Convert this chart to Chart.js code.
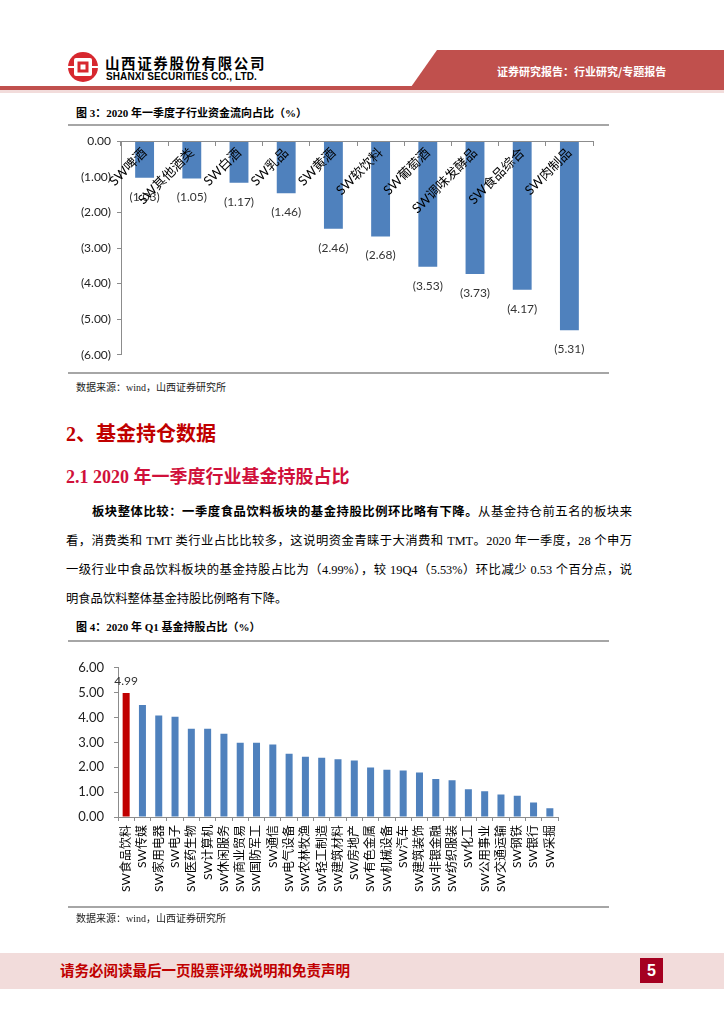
<!DOCTYPE html>
<html>
<head>
<meta charset="utf-8">
<script src="https://cdn.jsdelivr.net/npm/chart.js@4/dist/chart.umd.min.js"></script>
<style>
  html, body { margin: 0; padding: 0; background: #fff; }
  #page { position: relative; width: 724px; height: 1024px; overflow: hidden; background: #fff;
          font-family: "Liberation Serif", "Noto Sans CJK SC", serif; color: #000; }
  .abs { position: absolute; white-space: nowrap; }
  .cap { font-size: 11px; font-weight: bold; left: 76px; }
  .src { font-size: 10px; left: 76px; color: #222; }
  .rule { position: absolute; left: 68px; width: 541px; height: 2px; background: #A6A6A6; }
  .para { position: absolute; left: 66px; width: 566px; font-size: 12.3px; line-height: 16px;
          text-align: justify; text-align-last: justify; white-space: normal; }
</style>
</head>
<body>
<div id="page">
  <!-- header -->
  <svg class="abs" style="left:0;top:0" width="724" height="96">
    <polygon points="437,50 724,50 724,87 411,87" fill="#C0504D"/>
    <rect x="0" y="86" width="724" height="4" fill="#C0504D"/>
    <rect x="0" y="90" width="724" height="3" fill="#F2DCDB"/>
    <circle cx="83" cy="67" r="15" fill="#D7282F"/>
    <rect x="74" y="58" width="18" height="18" rx="2" fill="#fff"/>
    <rect x="77.5" y="61.5" width="11" height="11" fill="#D7282F"/>
    <rect x="80.5" y="64.5" width="5" height="5" fill="#fff"/>
    <rect x="68" y="66" width="6" height="2" fill="#fff"/>
    <rect x="92" y="66" width="6" height="2" fill="#fff"/>
  </svg>
  <div class="abs" style="left:105px;top:54px;font-size:14.5px;font-weight:bold;letter-spacing:1.6px;font-family:'Noto Sans CJK SC',sans-serif;line-height:18px;">山西证券股份有限公司</div>
  <div class="abs" style="left:106px;top:71px;font-size:10px;font-weight:bold;font-family:'Liberation Sans',sans-serif;line-height:12px;letter-spacing:0.1px;">SHANXI SECURITIES CO., LTD.</div>
  <div class="abs" style="left:497px;top:64px;font-size:11px;font-weight:bold;color:#fff;font-family:'Noto Sans CJK SC',sans-serif;line-height:15px;">证券研究报告：行业研究/专题报告</div>

  <!-- figure 3 -->
  <div class="abs cap" style="top:105px;line-height:16px;">图 3：2020 年一季度子行业资金流向占比（%）</div>
  <div class="rule" style="top:124px;"></div>
  <div class="abs" style="left:60px;top:128px;width:560px;height:240px;"><canvas id="c1"></canvas></div>
  <div class="rule" style="top:372px;"></div>
  <div class="abs src" style="top:381px;line-height:14px;">数据来源：wind，山西证券研究所</div>

  <!-- headings -->
  <div class="abs" style="left:66px;top:422px;font-size:20px;font-weight:bold;color:#C00000;line-height:24px;">2、基金持仓数据</div>
  <div class="abs" style="left:66px;top:466px;font-size:18px;font-weight:bold;color:#D0103A;line-height:22px;">2.1 2020 年一季度行业基金持股占比</div>

  <div class="para" style="top:504px;left:92px;width:540px;"><b>板块整体比较：一季度食品饮料板块的基金持股比例环比略有下降。</b>从基金持仓前五名的板块来</div>
  <div class="para" style="top:533px;">看，消费类和 TMT 类行业占比比较多，这说明资金青睐于大消费和 TMT。2020 年一季度，28 个申万</div>
  <div class="para" style="top:562px;">一级行业中食品饮料板块的基金持股占比为（4.99%），较 19Q4（5.53%）环比减少 0.53 个百分点，说</div>
  <div class="para" style="top:591px;text-align:left;text-align-last:left;">明食品饮料整体基金持股比例略有下降。</div>

  <!-- figure 4 -->
  <div class="abs cap" style="top:619px;line-height:16px;">图 4：2020 年 Q1 基金持股占比（%）</div>
  <div class="rule" style="top:640px;"></div>
  <div class="abs" style="left:60px;top:650px;width:520px;height:262px;"><canvas id="c2"></canvas></div>
  <div class="rule" style="top:906px;"></div>
  <div class="abs src" style="top:912px;line-height:14px;">数据来源：wind，山西证券研究所</div>

  <!-- footer -->
  <div class="abs" style="left:0;top:953px;width:724px;height:36px;background:#F2DCDB;"></div>
  <div class="abs" style="left:60px;top:961px;font-size:14.5px;font-weight:bold;color:#C00000;font-family:'Noto Sans CJK SC',sans-serif;line-height:18px;">请务必阅读最后一页股票评级说明和免责声明</div>
  <div class="abs" style="left:640px;top:958px;width:23px;height:25px;background:#A50021;color:#fff;font-weight:bold;font-size:16px;line-height:25px;text-align:center;font-family:'Liberation Sans',sans-serif;">5</div>
</div>

<script>
// ---------- data ----------
const flowCategories = ['SW啤酒','SW其他酒类','SW白酒','SW乳品','SW黄酒','SW软饮料','SW葡萄酒','SW调味发酵品','SW食品综合','SW肉制品'];
const flowValues = [-1.03,-1.05,-1.17,-1.46,-2.46,-2.68,-3.53,-3.73,-4.17,-5.31];
const flowTicks = [0,-1,-2,-3,-4,-5,-6];

const fundCategories = ['SW食品饮料','SW传媒','SW家用电器','SW电子','SW医药生物','SW计算机','SW休闲服务','SW商业贸易','SW国防军工','SW通信','SW电气设备','SW农林牧渔','SW轻工制造','SW建筑材料','SW房地产','SW有色金属','SW机械设备','SW汽车','SW建筑装饰','SW非银金融','SW纺织服装','SW化工','SW公用事业','SW交通运输','SW钢铁','SW银行','SW采掘'];
const fundValues = [4.99,4.50,4.08,4.03,3.55,3.55,3.35,2.99,2.99,2.92,2.54,2.42,2.38,2.32,2.27,1.99,1.90,1.87,1.79,1.53,1.48,1.12,1.04,0.90,0.85,0.58,0.35];
const fundTicks = [0,1,2,3,4,5,6];
const fundLabeled = [0];

// ---------- helpers ----------
const BLUE = '#4F81BD', RED = '#C00000', AXIS = '#8C8C8C';
const sansFont = "Lato, 'Noto Sans CJK SC', sans-serif";

const barLabels = {
  id: 'barLabels',
  afterDatasetsDraw(chart, args, opts) {
    const ctx = chart.ctx;
    const meta = chart.getDatasetMeta(0);
    const data = chart.data.datasets[0].data;
    ctx.save();
    ctx.font = opts.font;
    ctx.fillStyle = opts.color;
    ctx.textAlign = 'center';
    ctx.textBaseline = 'middle';
    meta.data.forEach((bar, i) => {
      if (opts.only && opts.only.indexOf(i) < 0) return;
      const v = data[i];
      const txt = opts.format(v);
      const y = v < 0 ? bar.y + opts.offset : bar.y - opts.offset;
      ctx.fillText(txt, bar.x, y);
    });
    ctx.restore();
  }
};

// ---------- chart 1 ----------
new Chart(document.getElementById('c1'), {
  type: 'bar',
  data: {
    labels: flowCategories,
    datasets: [{ data: flowValues, backgroundColor: BLUE, borderWidth: 0,
                 barPercentage: 0.4, categoryPercentage: 1.0 }]
  },
  options: {
    responsive: true, maintainAspectRatio: false, animation: false,
    devicePixelRatio: 1,
    layout: { padding: { top: 13, right: 27, bottom: 10, left: 0 } },
    plugins: {
      legend: { display: false }, tooltip: { enabled: false },
      barLabels: { font: "12px " + sansFont, color: '#333', offset: 19,
                   format: v => '(' + Math.abs(v).toFixed(2) + ')' }
    },
    scales: {
      x: {
        position: { y: 0 },
        grid: { drawOnChartArea: false, drawTicks: true, tickLength: 4, color: AXIS, offset: true, z: 1 },
        border: { color: AXIS, width: 1, z: 1 },
        ticks: { z: 1, autoSkip: false, minRotation: 45, maxRotation: 45, padding: 0,
                 color: '#000', font: { family: sansFont, size: 13 } }
      },
      y: {
        min: -6, max: 0,
        afterBuildTicks: s => { s.ticks = flowTicks.map(v => ({ value: v })); },
        afterFit: s => { s.width = 61; },
        grid: { drawOnChartArea: false, drawTicks: true, tickLength: 4, color: AXIS },
        border: { color: AXIS, width: 1 },
        ticks: { padding: 6, color: '#222', font: { family: sansFont, size: 12 },
                 callback: v => v === 0 ? '0.00' : '(' + Math.abs(v).toFixed(2) + ')' }
      }
    }
  },
  plugins: [barLabels]
});

// ---------- chart 2 ----------
new Chart(document.getElementById('c2'), {
  type: 'bar',
  data: {
    labels: fundCategories,
    datasets: [{ data: fundValues,
                 backgroundColor: fundValues.map((v, i) => i === 0 ? RED : BLUE),
                 borderWidth: 0, barPercentage: 0.43, categoryPercentage: 1.0 }]
  },
  options: {
    responsive: true, maintainAspectRatio: false, animation: false,
    devicePixelRatio: 1,
    layout: { padding: { top: 12, right: 22, bottom: 0, left: 0 } },
    plugins: {
      legend: { display: false }, tooltip: { enabled: false },
      barLabels: { font: "12px " + sansFont, color: '#333', offset: 12, only: fundLabeled,
                   format: v => v.toFixed(2) }
    },
    scales: {
      x: {
        grid: { drawOnChartArea: false, drawTicks: true, tickLength: 4, color: AXIS, offset: true },
        border: { color: AXIS, width: 1 },
        afterFit: s => { s.height = 95; },
        ticks: { autoSkip: false, minRotation: 90, maxRotation: 90, padding: 4,
                 color: '#000', font: { family: sansFont, size: 12 } }
      },
      y: {
        min: 0, max: 6,
        afterBuildTicks: s => { s.ticks = fundTicks.map(v => ({ value: v })); },
        afterFit: s => { s.width = 58; },
        grid: { drawOnChartArea: false, drawTicks: true, tickLength: 4, color: AXIS },
        border: { color: AXIS, width: 1 },
        ticks: { padding: 10, color: '#222', font: { family: sansFont, size: 13 },
                 callback: v => v.toFixed(2) }
      }
    }
  },
  plugins: [barLabels]
});
</script>
</body>
</html>
